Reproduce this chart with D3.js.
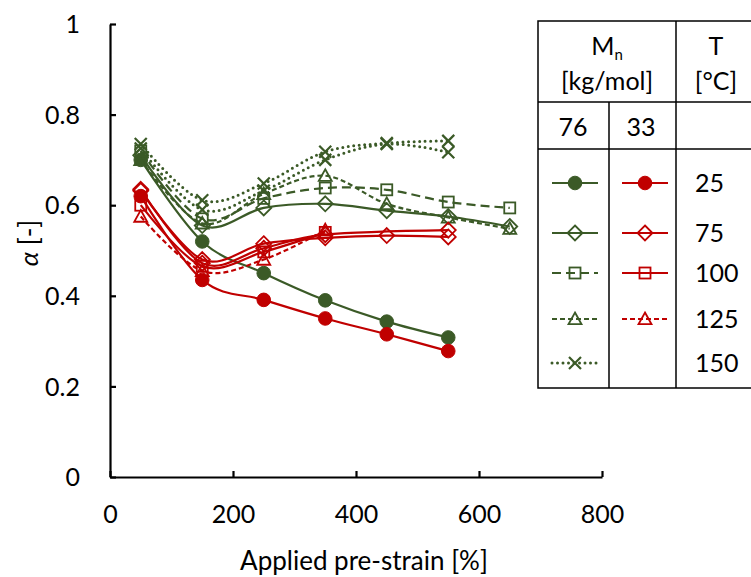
<!DOCTYPE html>
<html><head><meta charset="utf-8">
<script src="https://cdn.jsdelivr.net/npm/d3@7"></script>
<style>body{margin:0;background:#fff}svg{display:block;font-family:Lato,"Open Sans",sans-serif}</style>
</head><body><svg id="c" width="751" height="577"></svg>
<script>
// ---- data ----
const strain = [50, 150, 250, 350, 450, 550, 650];
const xTicks = [0, 200, 400, 600, 800];
const yTicks = [0, 0.2, 0.4, 0.6, 0.8, 1];
const yTickLabels = ["0", "0.2", "0.4", "0.6", "0.8", "1"];
// Mn = 76 kg/mol (green)
const g25  = [0.70, 0.52, 0.45, 0.39, 0.343, 0.308, null];
const g75  = [0.71, 0.555, 0.594, 0.603, 0.588, 0.575, 0.553];
const g100 = [0.72, 0.57, 0.615, 0.638, 0.634, 0.607, 0.594];
const g125 = [0.70, 0.56, 0.625, 0.665, 0.603, 0.573, 0.548];
const g150a = [0.735, 0.611, 0.648, 0.718, 0.737, 0.742, null];
const g150b = [0.725, 0.59, 0.632, 0.70, 0.735, 0.717, null];
// Mn = 33 kg/mol (red)
const r25  = [0.62, 0.435, 0.391, 0.350, 0.315, 0.278, null];
const r75a = [0.632, 0.48, 0.515, 0.528, 0.533, 0.53, null];
const r75b = [0.635, 0.472, 0.505, 0.535, null, 0.545, null];
const r100 = [0.60, 0.465, 0.497, 0.54, null, null, null];
const r125 = [0.575, 0.455, 0.48, 0.545, null, null, null];
const legendMn = ["76", "33"];
const legendT = ["25", "75", "100", "125", "150"];

const GREEN = "#3b5a27", RED = "#c00000";
const series = [
  {v: g25, c: GREEN, m: "circle", dash: null},
  {v: g75, c: GREEN, m: "diamond", dash: null},
  {v: g100, c: GREEN, m: "square", dash: "9,5"},
  {v: g125, c: GREEN, m: "triangle", dash: "5,3"},
  {v: g150a, c: GREEN, m: "x", dash: "dot"},
  {v: g150b, c: GREEN, m: "x", dash: "dot"},
  {v: r25, c: RED, m: "circle", dash: null},
  {v: r75a, c: RED, m: "diamond", dash: null},
  {v: r75b, c: RED, m: "diamond", dash: null},
  {v: r100, c: RED, m: "square", dash: null},
  {v: r125, c: RED, m: "triangle", dash: "5,3"}
];

const svg = d3.select("#c");
const x = d3.scaleLinear().domain([0, 800]).range([110, 602]);
const y = d3.scaleLinear().domain([0, 1]).range([477, 24]);

function drawMarker(g, type, cx, cy, color) {
  if (type === "circle") {
    g.append("circle").attr("cx", cx).attr("cy", cy).attr("r", 6.8).attr("fill", color).attr("stroke", color);
  } else if (type === "diamond") {
    const s = 7.5;
    g.append("path").attr("d", `M${cx},${cy-s}L${cx+s},${cy}L${cx},${cy+s}L${cx-s},${cy}Z`)
      .attr("fill", "none").attr("stroke", color).attr("stroke-width", 1.8);
  } else if (type === "square") {
    const s = 5.5;
    g.append("rect").attr("x", cx-s).attr("y", cy-s).attr("width", 2*s).attr("height", 2*s)
      .attr("fill", "none").attr("stroke", color).attr("stroke-width", 1.8);
  } else if (type === "triangle") {
    const s = 6.5;
    g.append("path").attr("d", `M${cx},${cy-s}L${cx+s},${cy+s*0.8}L${cx-s},${cy+s*0.8}Z`)
      .attr("fill", "none").attr("stroke", color).attr("stroke-width", 1.8);
  } else if (type === "x") {
    const s = 6;
    g.append("path").attr("d", `M${cx-s},${cy-s}L${cx+s},${cy+s}M${cx+s},${cy-s}L${cx-s},${cy+s}`)
      .attr("fill", "none").attr("stroke", color).attr("stroke-width", 2.2);
  }
}
function styleLine(sel, s) {
  sel.attr("fill", "none").attr("stroke", s.c).attr("stroke-width", s.dash === "dot" ? 3 : 2.2);
  if (s.dash === "dot") sel.attr("stroke-dasharray", "0,5.5").attr("stroke-linecap", "round");
  else if (s.dash) sel.attr("stroke-dasharray", s.dash);
}

// axes
const ax = svg.append("g").attr("transform", `translate(0,${y(0)})`)
  .call(d3.axisBottom(x).tickValues(xTicks).tickSizeInner(-6).tickSizeOuter(0).tickPadding(28));
const ay = svg.append("g").attr("transform", `translate(${x(0)},0)`)
  .call(d3.axisLeft(y).tickValues(yTicks).tickFormat((d, i) => yTickLabels[i]).tickSizeInner(-6).tickSizeOuter(0).tickPadding(30));
[ax, ay].forEach(a => {
  a.select(".domain").attr("stroke", "#000").attr("stroke-width", 2.2);
  a.selectAll(".tick line").attr("stroke", "#000").attr("stroke-width", 2.2);
  a.selectAll(".tick text").attr("font-size", 25).attr("fill", "#000").attr("font-family", "Lato, sans-serif");
});
ay.selectAll(".tick text").attr("dy", "0.35em");

svg.append("text").attr("x", 364).attr("y", 570).attr("text-anchor", "middle").attr("font-size", 26).text("Applied pre-strain [%]");
svg.append("text").attr("transform", "translate(38,243) rotate(-90)").attr("text-anchor", "middle").attr("font-size", 26)
  .html('<tspan font-style="italic">α</tspan> [-]');

// series
const plot = svg.append("g");
series.forEach(s => {
  const pts = strain.map((xv, i) => [xv, s.v[i]]).filter(p => p[1] !== null);
  const line = d3.line().x(p => x(p[0])).y(p => y(p[1])).curve(d3.curveCatmullRom.alpha(0));
  styleLine(plot.append("path").attr("d", line(pts)), s);
  const mg = plot.append("g");
  pts.forEach(p => drawMarker(mg, s.m, x(p[0]), y(p[1]), s.c));
});

// legend table
const L = svg.append("g");
const tl = (x1, y1, x2, y2) => L.append("line").attr("x1", x1).attr("y1", y1).attr("x2", x2).attr("y2", y2).attr("stroke", "#000").attr("stroke-width", 1.5);
L.append("rect").attr("x", 538).attr("y", 21).attr("width", 230).attr("height", 367).attr("fill", "#fff").attr("stroke", "#000").attr("stroke-width", 1.5);
tl(676, 21, 676, 388);
tl(609, 102, 609, 388);
tl(538, 102, 760, 102);
tl(538, 149, 760, 149);
const ts = (tx, ty, str, anchor) => L.append("text").attr("x", tx).attr("y", ty).attr("text-anchor", anchor || "middle").attr("font-size", 25).text(str);
L.append("text").attr("x", 607).attr("y", 55).attr("text-anchor", "middle").attr("font-size", 25)
  .html('M<tspan font-size="15" dy="5">n</tspan>');
ts(607, 90, "[kg/mol]");
ts(716, 55, "T");
ts(716, 90, "[°C]");
ts(573, 136, legendMn[0]);
ts(641, 136, legendMn[1]);
const rowY = [183, 233, 273, 319, 363];
legendT.forEach((t, i) => ts(695, rowY[i] + 9, t, "start"));
const legendSeries = [[series[0], series[6]], [series[1], series[7]], [series[2], series[9]], [series[3], series[10]], [series[4], null]];
legendSeries.forEach((pair, i) => {
  pair.forEach((s, j) => {
    if (!s) return;
    const cx = j === 0 ? 575 : 645;
    styleLine(L.append("line").attr("x1", cx - 23).attr("x2", cx + 23).attr("y1", rowY[i]).attr("y2", rowY[i]), s);
    drawMarker(L, s.m, cx, rowY[i], s.c);
  });
});
</script></body></html>
